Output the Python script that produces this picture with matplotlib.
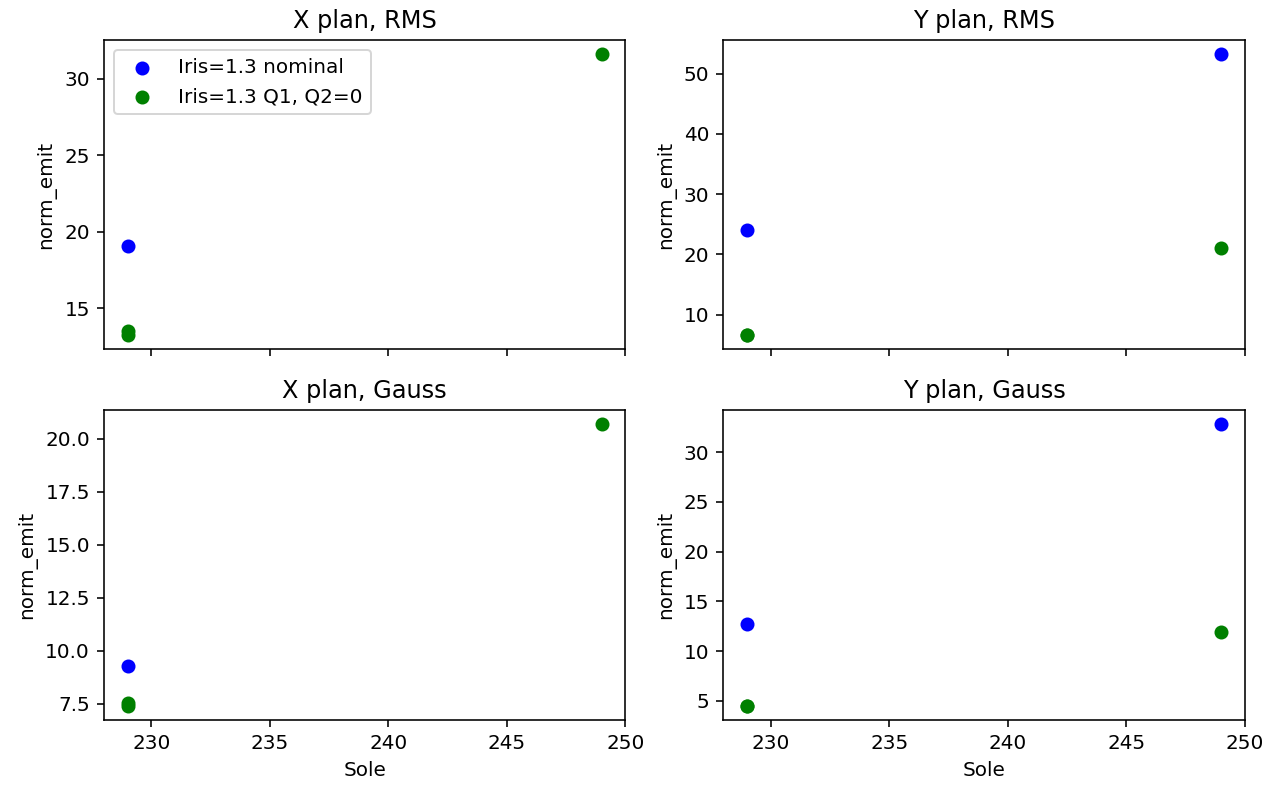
import matplotlib
matplotlib.use('Agg')
import matplotlib.pyplot as plt

# Sole settings for each series
sole_nominal_x = [229]
sole_nominal_y = [229, 249]
sole_q = [229, 229, 249]

# X plan values
x_rms_nominal = [19.1]
x_rms_q = [13.52, 13.24, 31.6]
x_gauss_nominal = [9.27]
x_gauss_q = [7.56, 7.41, 20.67]

# Y plan values
y_rms_nominal = [24.1, 53.26]
y_rms_q = [6.57, 6.57, 21.1]
y_gauss_nominal = [12.72, 32.79]
y_gauss_q = [4.5, 4.5, 11.88]

fig, axs = plt.subplots(2, 2, sharex=True, figsize=(1269 / 144, 785 / 144), dpi=144)

panels = [
    (axs[0, 0], 'X plan, RMS', sole_nominal_x, x_rms_nominal, x_rms_q),
    (axs[0, 1], 'Y plan, RMS', sole_nominal_y, y_rms_nominal, y_rms_q),
    (axs[1, 0], 'X plan, Gauss', sole_nominal_x, x_gauss_nominal, x_gauss_q),
    (axs[1, 1], 'Y plan, Gauss', sole_nominal_y, y_gauss_nominal, y_gauss_q),
]

for ax, title, sx, nom, q in panels:
    ax.scatter(sx, nom, color='b', label='Iris=1.3 nominal')
    ax.scatter(sole_q, q, color='g', label='Iris=1.3 Q1, Q2=0')
    ax.set_title(title)
    ax.set_ylabel('norm_emit')

# x range as in the original (both Sole points)
axs[0, 0].set_xlim(228, 250)

axs[1, 0].set_xlabel('Sole')
axs[1, 1].set_xlabel('Sole')
axs[0, 0].legend(loc='upper left')

# margins matched to the original cropped output
plt.subplots_adjust(left=0.082, right=0.981, top=0.949, bottom=0.083,
                    wspace=0.188, hspace=0.197)
plt.savefig('out.png', dpi=144)
